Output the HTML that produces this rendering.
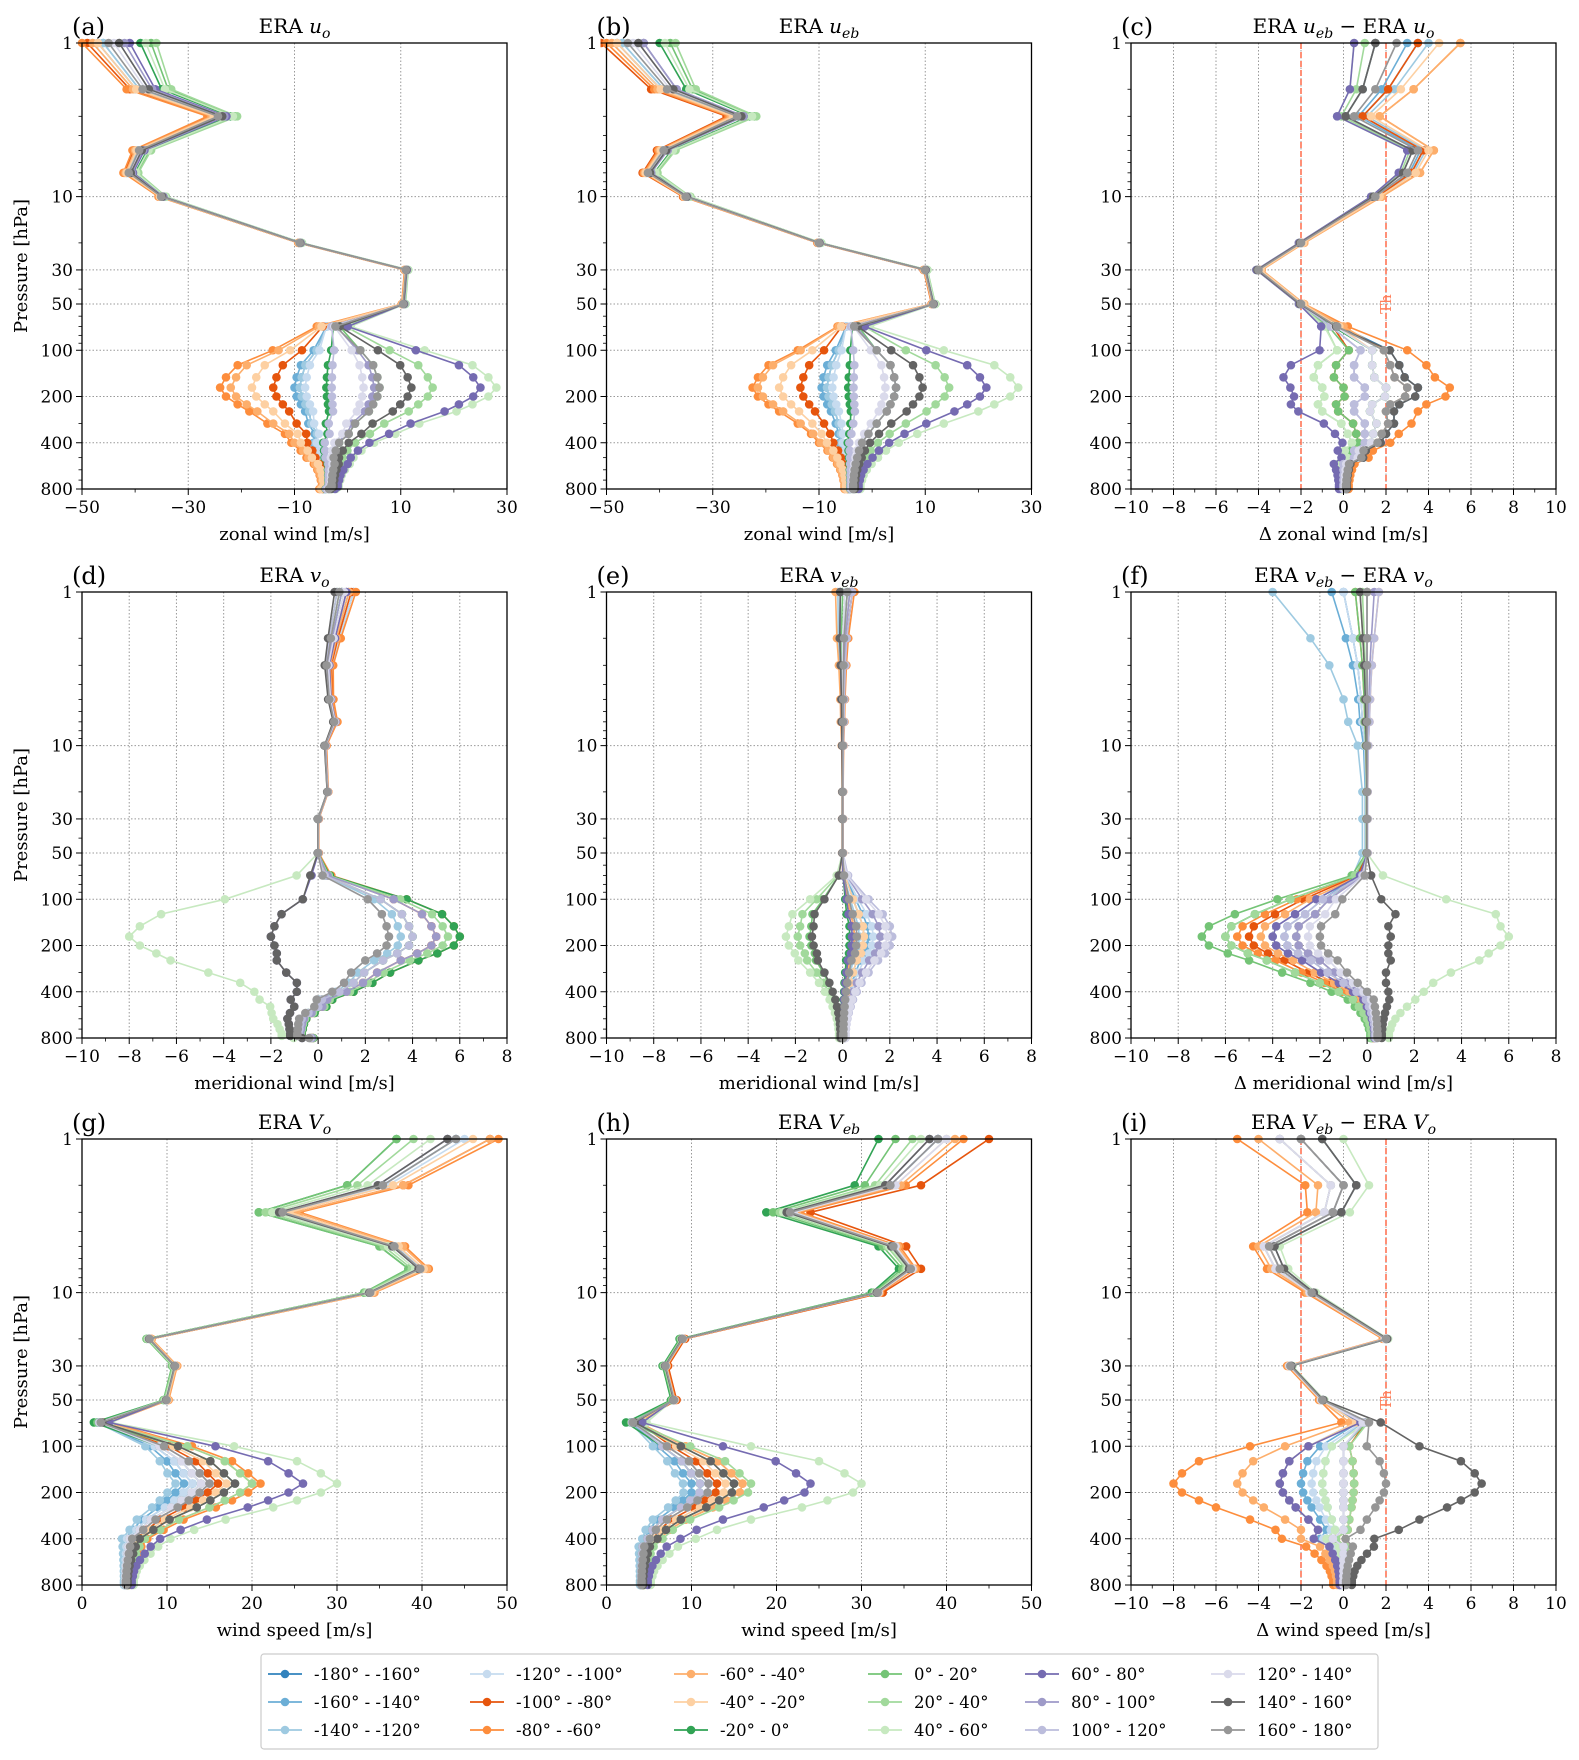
<!DOCTYPE html>
<html><head><meta charset="utf-8">
<style>
html,body{margin:0;padding:0;background:#fff;}
svg{display:block;font-family:"DejaVu Serif","Liberation Serif",serif;}
</style></head>
<body>
<svg id="fig" width="1579" height="1760" viewBox="0 0 1579 1760" xmlns="http://www.w3.org/2000/svg"></svg>
<script>
// ---- data ----
const levels = [1,2,3,5,7,10,20,30,50,70,100,125,150,175,200,225,250,300,350,400,450,500,550,600,650,700,750,775,800];
const seriesNames = ["-180° - -160°","-160° - -140°","-140° - -120°","-120° - -100°","-100° - -80°","-80° - -60°","-60° - -40°","-40° - -20°","-20° - 0°","0° - 20°","20° - 40°","40° - 60°","60° - 80°","80° - 100°","100° - 120°","120° - 140°","140° - 160°","160° - 180°"];
const seriesColors = ["#3182bd","#6baed6","#9ecae1","#c6dbef","#e6550d","#fd8d3c","#fdae6b","#fdd0a2","#31a354","#74c476","#a1d99b","#c7e9c0","#756bb1","#9e9ac8","#bcbddc","#dadaeb","#636363","#969696"];
// vertical structure of longitude-dependent deviations
const tropoShape = [0,0,0,0,0,0,0,0,0,0.1,0.55,0.85,0.95,1,0.95,0.85,0.75,0.55,0.4,0.3,0.22,0.17,0.13,0.1,0.08,0.07,0.06,0.06,0.06];
const stratShape = [1,0.6,0.4,0.25,0.2,0.1,0.05,0.05,0.05,0.1,0,0,0,0,0,0,0,0,0,0,0,0,0,0,0,0,0,0,0];

const baseA = [-44,-38,-24,-39,-41,-35,-9,11,10.5,-3,-2,-2,-2,-2,-2,-2,-2,-3,-3,-4,-4,-4,-3.5,-3.5,-3.5,-3.5,-3.5,-3.5,-4];
const ampA = [-7,-8,-7,-6,-12,-22,-20,-16,-2,8,18,30,27,7,-1,5,14,8];
const stratA = [-3,-2,-2,-4,-5,-6,-4,-3,5,7,8,6,3,2,1,0,1,-1];

const baseB = [-45,-38,-25,-39,-42,-35,-10,10,11.5,-4,-3,-2.5,-2.5,-2.5,-2.5,-2.5,-2.5,-3,-3.5,-4,-4,-4,-4,-4,-4,-4,-4,-4,-4];
const ampB = [-6,-7,-6,-5,-11,-20,-19,-15,-2,7,17,30,24,7,-1,5,12,7];
const stratB = [-3,-2,-2,-4,-6,-5,-4,-3,5,7,8,6,2,2,1,0,1,-1];

const baseC = [2.5,1.5,0.5,3.5,3,1.5,-2,-4,-2,-0.5,0.8,0.5,0.5,1,1,0.5,0.5,1,1,1,0.5,0.5,0,0,0,0,0,0,0];
const ampC = [2.5,2,1,1,-1,4,2,1,1,-1,-2,-2,-3.5,0,0,1,2.5,2];
const stratC = [1,0.5,1.5,1,1,3,3,2,-1,-1,-1.5,-2,-2,-1,-1,0,-1,0];

const baseD = [1,0.6,0.4,0.5,0.7,0.3,0.4,0,0,0,1,1,1,1,1,0.8,0.5,0.3,0.3,0,-0.5,-0.5,-0.8,-1,-1,-1,-1,-1,-0.5];
const ampD = [3,3,2.5,3,4,5,4,3,5,3,4.5,-9,-3,4,3,2,-3,2];
const stratD = [0.5,0.3,0.2,0.5,0.4,0.6,0.3,0.2,0,-0.2,0,-0.1,0.2,0,-0.2,0.1,-0.3,-0.1];

const baseE = [0.1,0,0,0,0,0,0,0,0,0,0,0,0.1,0.1,0.1,0.1,0,0,0,0,0,0,0,0,0,0,0,0,0];
const ampE = [0.8,1,0.6,1.2,0.4,0.4,0.4,0.8,0.2,-1.5,-2,-2.5,0.3,1.5,2,1.8,-1.4,0.5];
const stratE = [0.3,0.2,-0.3,0.1,0.3,0.4,-0.4,0.2,0,-0.1,0.1,0,-0.2,0.2,0.3,0,-0.2,0.1];

const baseF = [0,0,0,0,0,0,0,0,0,0,-0.5,-0.5,-1,-1,-1,-0.8,-0.5,-0.3,0,0.3,0.5,0.5,0.5,0.5,0.5,0.5,0.5,0.5,0.5];
const ampF = [-2,-2.5,-2,-3,-4,-4.5,-3.5,-2,-5,-6,-5,7,-3,-2,-2.5,-1.5,2,-1];
const stratF = [-1,-1.5,-4,-1,0,-0.5,0.5,-0.3,0,-0.5,-0.2,-0.3,0,0.3,0.5,0,-0.3,0];

const baseG = [45,36,24,37,40,34,8,11,10,2,8,10,11,12,11,10,9,7,6,5,5,5,5,5,5,5,5,5,5];
const ampG = [1,0,-1,1,4,9,8,5,2,6,8,18,14,3,2,2,6,3];
const stratG = [-1,-1,-1,0,3,4,3,1,-8,-8,-6,-4,-2,-2,-2,-1,-2,-1];

const baseH = [40,34,22,34,36,32,9,7,8,3,6,8,9,10,10,9,8,6,5,4.5,4,4,4,4,4,4,4,4,4];
const ampH = [1,0,-1,1,3,6,6,4,1,5,7,20,14,2,1,2,5,2];
const stratH = [-1,-1,-1,0,5,2,1,0,-8,-6,-4,-3,-2,-1,-1,0,-2,-1];

const baseI = [-2,0,-0.5,-3.5,-3,-1.5,2,-2.5,-1,1,0,0,0,0,0,0,0,0,0,-0.5,0,0,0,0,0,0,0,0,0];
const ampI = [-3,-2,-1,-1.5,0.5,-8,-5,-3,0,0,0.5,-1,-3,0,0,0,6.5,2];
const stratI = [-1,-1,0,0,0,-3,-2,-1,0,1,1,2,1,0,0,-1,1,0];

// ---- layout ----
const NS = "http://www.w3.org/2000/svg";
const fig = document.getElementById('fig');
function el(tag, attrs, parent){ const e=document.createElementNS(NS,tag); for(const k in attrs) e.setAttribute(k,attrs[k]); (parent||fig).appendChild(e); return e; }
const W=425, H=446;
const colX=[82,606.5,1131], rowY=[43,592,1139];
function rng(a,b,s){const r=[];for(let v=a;v<=b+1e-9;v+=s)r.push(Math.round(v*100)/100);return r;}
const panels=[
 {tag:"(a)",t:["ERA ","u","o","",""],c:0,r:0,xmin:-50,xmax:30,major:[-50,-30,-10,10,30],minor:rng(-40,20,20),xl:"zonal wind [m/s]",base:baseA,amp:ampA,strat:stratA},
 {tag:"(b)",t:["ERA ","u","eb","",""],c:1,r:0,xmin:-50,xmax:30,major:[-50,-30,-10,10,30],minor:rng(-40,20,20),xl:"zonal wind [m/s]",base:baseB,amp:ampB,strat:stratB},
 {tag:"(c)",t:["ERA ","u","eb","u","o"],c:2,r:0,xmin:-10,xmax:10,major:rng(-10,10,2),minor:rng(-9,9,2),xl:"Δ zonal wind [m/s]",base:baseC,amp:ampC,strat:stratC,th:true},
 {tag:"(d)",t:["ERA ","v","o","",""],c:0,r:1,xmin:-10,xmax:8,major:rng(-10,8,2),minor:rng(-9,7,2),xl:"meridional wind [m/s]",base:baseD,amp:ampD,strat:stratD},
 {tag:"(e)",t:["ERA ","v","eb","",""],c:1,r:1,xmin:-10,xmax:8,major:rng(-10,8,2),minor:rng(-9,7,2),xl:"meridional wind [m/s]",base:baseE,amp:ampE,strat:stratE},
 {tag:"(f)",t:["ERA ","v","eb","v","o"],c:2,r:1,xmin:-10,xmax:8,major:rng(-10,8,2),minor:rng(-9,7,2),xl:"Δ meridional wind [m/s]",base:baseF,amp:ampF,strat:stratF},
 {tag:"(g)",t:["ERA ","V","o","",""],c:0,r:2,xmin:0,xmax:50,major:rng(0,50,10),minor:rng(5,45,10),xl:"wind speed [m/s]",base:baseG,amp:ampG,strat:stratG},
 {tag:"(h)",t:["ERA ","V","eb","",""],c:1,r:2,xmin:0,xmax:50,major:rng(0,50,10),minor:rng(5,45,10),xl:"wind speed [m/s]",base:baseH,amp:ampH,strat:stratH},
 {tag:"(i)",t:["ERA ","V","eb","V","o"],c:2,r:2,xmin:-10,xmax:10,major:rng(-10,10,2),minor:rng(-9,9,2),xl:"Δ wind speed [m/s]",base:baseI,amp:ampI,strat:stratI,th:true}
];
const yTicks=[1,10,30,50,100,200,400,800];
const yMinor=[2,3,4,5,6,7,8,9,20,40,60,70,80,90,300,500,600,700];
function fmt(v){return v<0?"−"+Math.abs(v):String(v);}

panels.forEach((p,pi)=>{
  const L=colX[p.c], T=rowY[p.r];
  const g=el('g',{});
  
  
  const sx=v=>L+(v-p.xmin)/(p.xmax-p.xmin)*W;
  const sy=pr=>T+Math.log10(pr)/Math.log10(800)*H;
  // grid
  p.major.forEach(v=>{ if(v>p.xmin&&v<p.xmax) el('line',{x1:sx(v),x2:sx(v),y1:T,y2:T+H,stroke:"#999","stroke-width":1,"stroke-dasharray":"1.5,2"},g); });
  yTicks.forEach(v=>{ if(v>1&&v<800) el('line',{x1:L,x2:L+W,y1:sy(v),y2:sy(v),stroke:"#999","stroke-width":1,"stroke-dasharray":"1.5,2"},g); });
  // threshold
  if(p.th){
    [-2,2].forEach(v=>{ const l=el('line',{x1:sx(v),x2:sx(v),y1:T,y2:T+H,stroke:"#ff6b4a","stroke-width":1.5,"stroke-dasharray":"6,3"},g);
        });
    const tx=el('text',{x:0,y:0,"font-size":15,fill:"#ff7f5a",transform:`translate(${sx(2)+5},${sy(50)}) rotate(-90)`,"text-anchor":"middle"},g);
    tx.textContent="Th";
     
  }
  // series
  const clip=el('clipPath',{id:'clip'+pi},g);
  el('rect',{x:L-6,y:T-6,width:W+12,height:H+12},clip);
  const sg=el('g',{"clip-path":`url(#clip${pi})`},g);
  seriesNames.forEach((nm,s)=>{
    const vals=levels.map((pr,k)=>p.base[k]+p.amp[s]*tropoShape[k]+p.strat[s]*stratShape[k]);
    const pts=vals.map((v,k)=>sx(v).toFixed(1)+","+sy(levels[k]).toFixed(1)).join(" ");
    const sgr=el('g',{},sg);
    
    
    el('polyline',{points:pts,fill:"none",stroke:seriesColors[s],"stroke-width":1.6},sgr);
    vals.forEach((v,k)=>{ el('circle',{cx:sx(v),cy:sy(levels[k]),r:4.3,fill:seriesColors[s]},sgr); });
  });
  // frame
  el('rect',{x:L,y:T,width:W,height:H,fill:"none",stroke:"#000","stroke-width":1.3},g);
  // x ticks
  p.major.forEach(v=>{ el('line',{x1:sx(v),x2:sx(v),y1:T+H,y2:T+H+6,stroke:"#000","stroke-width":1},g);
    const t=el('text',{x:sx(v),y:T+H+24,"font-size":17,"text-anchor":"middle"},g); t.textContent=fmt(v);});
  p.minor.forEach(v=>{ el('line',{x1:sx(v),x2:sx(v),y1:T+H,y2:T+H+3.5,stroke:"#000","stroke-width":0.8},g);});
  yTicks.forEach(v=>{ el('line',{x1:L-6,x2:L,y1:sy(v),y2:sy(v),stroke:"#000","stroke-width":1},g);
    const t=el('text',{x:L-9,y:sy(v)+6,"font-size":17,"text-anchor":"end"},g); t.textContent=v;});
  yMinor.forEach(v=>{ el('line',{x1:L-3.5,x2:L,y1:sy(v),y2:sy(v),stroke:"#000","stroke-width":0.8},g);});
  // x label
  const xl=el('text',{x:L+W/2,y:T+H+51,"font-size":18,"text-anchor":"middle"},g); xl.textContent=p.xl;
   
  if(p.c===0){ const yl=el('text',{x:0,y:0,"font-size":18,"text-anchor":"middle",transform:`translate(${L-55},${T+H/2}) rotate(-90)`},g); yl.textContent="Pressure [hPa]";
      }
  // title
  const tt=el('text',{x:L+W/2,y:T-10,"font-size":20,"text-anchor":"middle"},g);
   
  function add(txt,attrs){const s=el('tspan',attrs||{},tt); s.textContent=txt; return s;}
  add(p.t[0]); add(p.t[1],{"font-style":"italic"}); add(p.t[2],{"font-style":"italic","font-size":14,dy:5});
  if(p.t[3]){ add(" − ERA ",{dy:-5}); add(p.t[3],{"font-style":"italic"}); add(p.t[4],{"font-style":"italic","font-size":14,dy:5}); }
  const tg=el('text',{x:L-10,y:T-8,"font-size":24},g); tg.textContent=p.tag;
   
});

// legend
const lg=el('g',{});
 
el('rect',{x:261,y:1654,width:1117,height:95,fill:"#fff",stroke:"#ccc","stroke-width":1.2,rx:3},lg);
const lcx=[268,470,674,868,1025,1211], lry=[1674,1702,1730];
seriesNames.forEach((nm,s)=>{
  const cx=lcx[Math.floor(s/3)], cy=lry[s%3];
  const e=el('g',{},lg);
   
  el('line',{x1:cx,x2:cx+34,y1:cy,y2:cy,stroke:seriesColors[s],"stroke-width":1.8},e);
  el('circle',{cx:cx+17,cy:cy,r:4.3,fill:seriesColors[s]},e);
  const t=el('text',{x:cx+46,y:cy+6,"font-size":16.5},e); t.textContent=nm;
});
</script>
</body></html>
